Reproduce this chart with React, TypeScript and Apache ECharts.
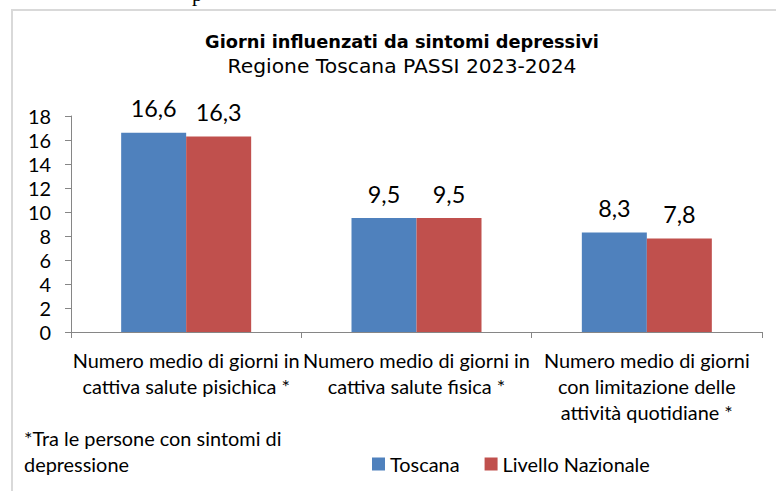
import React, { useEffect, useRef } from "react";
import * as echarts from "echarts";

const categories = [
  "Numero medio di giorni in\ncattiva salute pisichica *",
  "Numero medio di giorni in\ncattiva salute fisica *",
  "Numero medio di giorni\ncon limitazione delle\nattività quotidiane *",
];
const seriesNames = ["Toscana", "Livello Nazionale"];
const toscana = [16.6, 9.5, 8.3];
const nazionale = [16.3, 9.5, 7.8];
const yMin = 0;
const yMax = 18;
const yInterval = 2;
const titleText = "Giorni influenzati da sintomi depressivi";
const subtitleText = "Regione Toscana PASSI 2023-2024";
const footnote = "*Tra le persone con sintomi di\ndepressione";

const BODY = "Lato, 'Noto Sans', sans-serif";
const HEAD = "'DejaVu Sans', sans-serif";

function fit(text: string, target: number, family: string, weight = "normal") {
  const c = document.createElement("canvas").getContext("2d");
  if (!c) return 16;
  c.font = `${weight} 100px ${family}`;
  const w = c.measureText(text).width;
  return w > 0 ? (100 * target) / w : 16;
}

export default function App() {
  const ref = useRef<HTMLDivElement>(null);
  useEffect(() => {
    if (!ref.current) return;
    const chart = echarts.init(ref.current, undefined, { renderer: "svg" });
    const fsBody = fit("Numero medio di giorni in", 227, BODY);
    const fsVal = fit("16,6", 46, BODY);
    const fsTitle = fit(titleText, 394, HEAD, "bold");
    const fsSub = fit(subtitleText, 349, HEAD);
    const axisColor = "#868686";
    const valLabel = {
      show: true,
      position: "top",
      distance: 13,
      fontFamily: BODY,
      fontSize: fsVal,
      color: "#000",
      formatter: (p: any) => Number(p.value).toFixed(1).replace(".", ","),
    };
    chart.setOption({
      animation: false,
      backgroundColor: "#fff",
      grid: { left: 71, right: 14, top: 116, bottom: 159, containLabel: false },
      legend: {
        data: seriesNames,
        left: 372,
        top: 454,
        padding: 0,
        itemWidth: 13,
        itemHeight: 13,
        itemGap: 25,
        icon: "rect",
        textStyle: { fontFamily: BODY, fontSize: fsBody, color: "#000" },
      },
      xAxis: {
        type: "category",
        data: categories,
        axisLine: { show: true, lineStyle: { color: axisColor, width: 1 } },
        axisTick: { show: true, length: 6, lineStyle: { color: axisColor } },
        axisLabel: {
          interval: 0,
          margin: 15,
          fontFamily: BODY,
          fontSize: fsBody,
          lineHeight: 26,
          color: "#000",
        },
      },
      yAxis: {
        type: "value",
        min: yMin,
        max: yMax,
        interval: yInterval,
        axisLine: { show: true, lineStyle: { color: axisColor, width: 1 } },
        axisTick: { show: true, length: 6, lineStyle: { color: axisColor } },
        splitLine: { show: false },
        axisLabel: {
          margin: 20,
          fontFamily: BODY,
          fontSize: fsBody,
          color: "#000",
        },
      },
      series: [
        {
          name: seriesNames[0],
          type: "bar",
          data: toscana,
          barWidth: 65,
          barGap: "0%",
          itemStyle: { color: "#4F81BD" },
          label: valLabel,
        },
        {
          name: seriesNames[1],
          type: "bar",
          data: nazionale,
          barWidth: 65,
          barGap: "0%",
          itemStyle: { color: "#C0504D" },
          label: valLabel,
        },
      ],
      graphic: [
        {
          type: "rect",
          silent: true,
          shape: { x: 12, y: 10, width: 800, height: 520 },
          style: { fill: "none", stroke: "#d9d9d9", lineWidth: 2 },
        },
        {
          type: "text",
          silent: true,
          x: 192,
          y: -6.5,
          style: {
            text: "p",
            fontFamily: "'Liberation Serif', serif",
            fontSize: 21,
            fill: "#000",
            align: "left",
            verticalAlign: "middle",
          },
        },
        {
          type: "text",
          silent: true,
          x: 402,
          y: 42,
          style: {
            text: titleText,
            fontFamily: HEAD,
            fontWeight: "bold",
            fontSize: fsTitle,
            fill: "#000",
            align: "center",
            verticalAlign: "middle",
          },
        },
        {
          type: "text",
          silent: true,
          x: 402,
          y: 66,
          style: {
            text: subtitleText,
            fontFamily: HEAD,
            fontSize: fsSub,
            fill: "#000",
            align: "center",
            verticalAlign: "middle",
          },
        },
        {
          type: "text",
          silent: true,
          x: 24,
          y: 425,
          style: {
            text: footnote,
            fontFamily: BODY,
            fontSize: fsBody,
            lineHeight: 26,
            fill: "#000",
            align: "left",
            verticalAlign: "top",
          },
        },
      ],
    });
    return () => chart.dispose();
  }, []);
  return (
    <div
      ref={ref}
      style={{ position: "fixed", left: 0, top: 0, width: 776, height: 491, background: "#fff" }}
    />
  );
}
